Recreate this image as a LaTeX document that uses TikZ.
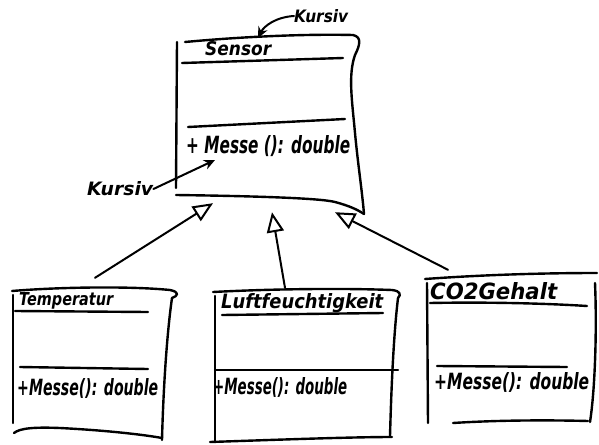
\documentclass[tikz,border=0pt]{standalone}
\usepackage{fontspec}
\newfontfamily\hand{DejaVu Sans}
\newcommand\hwtext[3]{\resizebox{#1}{#2}{\hand\bfseries\itshape #3}}
\usetikzlibrary{arrows.meta,calc}
\begin{document}
\begin{tikzpicture}[x=1pt,y=-1pt,
  stroke/.style={line width=2.4pt, line cap=round, line join=round},
  boxarea/.style={draw=none, inner sep=0pt},
  hw/.style={inner sep=0pt, anchor=west},
  gen/.style={line width=2pt, line cap=round, -{Triangle[open,length=20pt,width=17pt,line width=2pt]}},
  note/.style={line width=2pt, line cap=round, -{Stealth[length=11pt,width=10pt]}},
]
\useasboundingbox (0,0) rectangle (599,444);

% ---------- box areas (named) ----------
\node[boxarea, minimum width=183pt, minimum height=162pt] (sensor) at (268,118) {};
\node[boxarea, minimum width=160pt, minimum height=150pt] (temp) at (92,365) {};
\node[boxarea, minimum width=185pt, minimum height=152pt] (luft) at (305.5,366) {};
\node[boxarea, minimum width=172pt, minimum height=150pt] (co2) at (511,348) {};

% ---------- Sensor ----------
\draw[stroke] (185,42) .. controls (250,36) and (310,34) .. (353,35) .. controls (362,37) and (360,45) .. (355,55) .. controls (348,75) and (352,100) .. (355,133) .. controls (358,165) and (362,190) .. (364,214);
\draw[stroke] (177,42) -- (176,188);
\draw[stroke] (176,195) .. controls (250,196) and (320,198) .. (335,202) .. controls (350,206) and (358,210) .. (364,214);
\draw[stroke] (182,63) -- (343,58);
\draw[stroke] (188,127) -- (345,119);
\node[hw] (sname) at (205,49) {\hwtext{66pt}{14pt}{Sensor}};
\node[hw] (smeth) at (186,146) {\hwtext{164pt}{18pt}{+ Messe (): double}};

% ---------- Kursiv notes ----------
\node[hw] (k1) at (294,16) {\hwtext{54pt}{13pt}{Kursiv}};
\coordinate (k1end) at (258,38);
\draw[note] (k1.west) .. controls (276,17) and (264,26) .. (k1end);
\node[hw] (k2) at (87,189) {\hwtext{66pt}{14pt}{Kursiv}};
\coordinate (k2end) at (215,160);
\draw[note] (k2.east) -- (k2end);

% ---------- Temperatur ----------
\draw[stroke] (12,291) .. controls (60,287) and (130,286) .. (170,290) .. controls (180,292) and (178,296) .. (172,298);
\draw[stroke] (13,295) -- (13,423);
\draw[stroke] (172,298) .. controls (166,340) and (163,400) .. (162,440);
\draw[stroke] (14,433) .. controls (20,428) and (35,427) .. (60,428) .. controls (100,430) and (140,434) .. (162,438);
\draw[stroke] (15,311) -- (148,312);
\draw[stroke] (20,367) -- (148,369);
\node[hw] (tname) at (19,301) {\hwtext{94pt}{13pt}{Temperatur}};
\node[hw] (tmeth) at (17,388) {\hwtext{141pt}{17pt}{+Messe(): double}};

% ---------- Luftfeuchtigkeit ----------
\draw[stroke] (213,292) .. controls (270,289) and (340,288) .. (392,290) .. controls (401,291) and (401,295) .. (398,298);
\draw[stroke] (215,296) -- (215,442);
\draw[stroke] (398,298) .. controls (393,340) and (391,400) .. (390,436);
\draw[stroke] (210,442) .. controls (270,440) and (350,437) .. (392,437);
\draw[stroke] (222,315) -- (383,313);
\draw[stroke] (215,370) -- (398,370);
\node[hw] (lname) at (221,303) {\hwtext{162pt}{15pt}{Luftfeuchtigkeit}};
\node[hw] (lmeth) at (213,387) {\hwtext{134pt}{17pt}{+Messe(): double}};

% ---------- CO2Gehalt ----------
\draw[stroke] (425,279) .. controls (480,275) and (540,273) .. (597,273);
\draw[stroke] (427,283) -- (428,423);
\draw[stroke] (595,283) .. controls (597,330) and (595,390) .. (590,422);
\draw[stroke] (453,423) .. controls (500,420) and (550,420) .. (588,421);
\draw[stroke] (430,303) .. controls (480,302) and (540,303) .. (587,306);
\draw[stroke] (437,366) -- (567,367);
\node[hw] (cname) at (430,291) {\hwtext{127pt}{17pt}{CO2Gehalt}};
\node[hw] (cmeth) at (434,382) {\hwtext{155pt}{17pt}{+Messe(): double}};

% ---------- generalisation connectors ----------
\draw[gen] ($(temp.north)+(3,-12)$) -- ($(sensor.south)+(-55,4)$);
\draw[gen] ($(luft.north)+(-20.5,-2)$) -- ($(sensor.south)+(4,13)$);
\draw[gen] ($(co2.north)+(-63,-3)$) -- ($(sensor.south)+(67,13)$);
\end{tikzpicture}
\end{document}
